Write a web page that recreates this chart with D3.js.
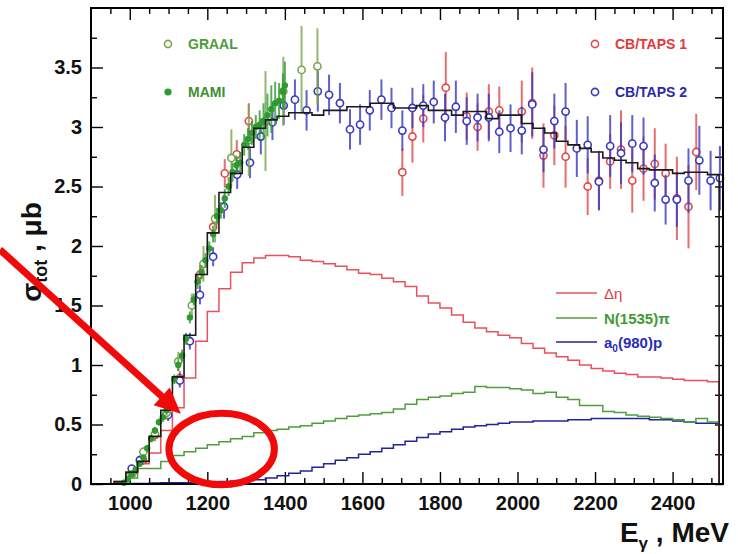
<!DOCTYPE html>
<html>
<head>
<meta charset="utf-8">
<script src="https://cdn.jsdelivr.net/npm/d3@7"></script>
<style>
  body { margin: 0; background: #fff; }
  svg { font-family: "Liberation Sans", Arial, Helvetica, sans-serif; }
</style>
</head>
<body>
<div id="chart"></div>
<script>
// histogram bins, 30 MeV wide, 960 .. 2520 MeV
const binEdges = d3.range(960, 2521, 30);

const totalModel = [0.02, 0.10, 0.19, 0.40, 0.62, 0.90, 1.25, 1.76, 2.11, 2.45, 2.61, 2.83, 2.99, 3.06,
  3.09, 3.12, 3.12, 3.10, 3.14, 3.14, 3.17, 3.17, 3.20, 3.20, 3.16, 3.16, 3.18, 3.14, 3.14, 3.10,
  3.13, 3.13, 3.07, 3.10, 3.10, 3.03, 2.99, 2.95, 2.88, 2.85, 2.82, 2.79, 2.74, 2.72, 2.70, 2.65,
  2.64, 2.64, 2.61, 2.62, 2.62, 2.60];
const deltaEta = [0.02, 0.09, 0.17, 0.26, 0.45, 0.64, 0.89, 1.20, 1.45, 1.64, 1.78, 1.86, 1.90, 1.92,
  1.92, 1.91, 1.88, 1.87, 1.85, 1.83, 1.80, 1.77, 1.76, 1.73, 1.70, 1.66, 1.58, 1.52, 1.48, 1.42,
  1.36, 1.31, 1.28, 1.25, 1.23, 1.18, 1.14, 1.10, 1.07, 1.04, 1.00, 0.97, 0.95, 0.93, 0.92, 0.90,
  0.90, 0.89, 0.88, 0.87, 0.87, 0.86];
const n1535Pi = [0.01, 0.05, 0.13, 0.13, 0.19, 0.24, 0.27, 0.30, 0.33, 0.355, 0.38, 0.40, 0.43, 0.45,
  0.46, 0.48, 0.49, 0.51, 0.53, 0.55, 0.57, 0.58, 0.59, 0.60, 0.63, 0.67, 0.71, 0.73, 0.74, 0.76,
  0.77, 0.82, 0.81, 0.81, 0.80, 0.79, 0.76, 0.77, 0.73, 0.71, 0.66, 0.66, 0.61, 0.60, 0.58, 0.57,
  0.56, 0.55, 0.54, 0.52, 0.55, 0.52];
const a0p = [0.003, 0.005, 0.005, 0.008, 0.01, 0.01, 0.01, 0.012, 0.015, 0.02, 0.025, 0.03, 0.035, 0.05,
  0.07, 0.09, 0.11, 0.14, 0.17, 0.20, 0.22, 0.25, 0.27, 0.30, 0.33, 0.36, 0.39, 0.42, 0.44, 0.46,
  0.48, 0.49, 0.50, 0.51, 0.52, 0.52, 0.53, 0.53, 0.53, 0.54, 0.54, 0.55, 0.55, 0.55, 0.55, 0.55,
  0.54, 0.54, 0.53, 0.52, 0.51, 0.51];

// CB/TAPS 1 (open red)
const taps1E = [1008, 1034, 1065, 1129, 1181, 1215, 1245, 1276, 1307, 1703, 1729, 1757, 1815, 1869,
  1897, 1926, 1953, 2011, 2038, 2067, 2095, 2124, 2181, 2210, 2239, 2267, 2296, 2325, 2354, 2382,
  2411, 2441, 2461];
const taps1Sigma = [0.10, 0.20, 0.41, 0.89, 1.76, 2.16, 2.61, 2.77, 3.05, 2.62, 2.92, 3.07, 3.33, 3.09,
  3.00, 3.13, 3.14, 3.13, 3.20, 2.76, 2.93, 2.75, 2.50, 2.55, 2.71, 2.81, 2.55, 2.65, 2.69, 2.61,
  2.40, 2.33, 2.79];
const taps1Err = [0.03, 0.04, 0.05, 0.06, 0.08, 0.09, 0.12, 0.12, 0.15, 0.20, 0.22, 0.20, 0.30, 0.20,
  0.20, 0.23, 0.20, 0.26, 0.30, 0.27, 0.25, 0.26, 0.24, 0.25, 0.23, 0.33, 0.27, 0.27, 0.30, 0.25,
  0.35, 0.35, 0.32];

// CB/TAPS 2 (open blue)
const taps2E = [1005, 1026, 1099, 1129, 1155, 1181, 1215, 1243, 1277, 1310, 1338, 1368, 1397, 1426,
  1456, 1485, 1514, 1542, 1568, 1594, 1619, 1649, 1675, 1703, 1729, 1757, 1784, 1813, 1841, 1869,
  1897, 1926, 1953, 1982, 2011, 2038, 2067, 2095, 2124, 2153, 2181, 2210, 2239, 2267, 2296, 2325,
  2354, 2382, 2411, 2441, 2469, 2498, 2522];
const taps2Sigma = [0.13, 0.20, 0.58, 0.87, 1.20, 1.59, 1.91, 2.33, 2.60, 2.70, 2.92, 3.04, 3.18, 3.23,
  3.14, 3.30, 3.27, 3.20, 2.98, 3.02, 3.14, 3.23, 3.16, 2.97, 3.16, 3.18, 3.21, 3.08, 3.17, 3.05,
  3.08, 3.08, 2.96, 2.99, 2.97, 3.19, 2.81, 3.05, 3.13, 2.82, 2.85, 2.54, 2.84, 2.78, 2.86, 2.84,
  2.53, 2.39, 2.39, 2.55, 2.72, 2.55, 2.57];
const taps2Err = [0.03, 0.04, 0.05, 0.06, 0.07, 0.08, 0.08, 0.10, 0.12, 0.13, 0.15, 0.15, 0.16, 0.17,
  0.17, 0.17, 0.17, 0.17, 0.17, 0.17, 0.17, 0.17, 0.17, 0.17, 0.17, 0.18, 0.18, 0.20, 0.22, 0.20,
  0.20, 0.20, 0.18, 0.20, 0.20, 0.27, 0.19, 0.23, 0.24, 0.24, 0.24, 0.24, 0.26, 0.26, 0.24, 0.24,
  0.24, 0.21, 0.23, 0.27, 0.29, 0.25, 0.27];

// GRAAL (open green)
const graalE = [1005, 1035, 1065, 1095, 1125, 1160, 1190, 1220, 1262, 1307, 1350, 1396, 1443, 1484];
const graalSigma = [0.08, 0.27, 0.42, 0.60, 1.03, 1.50, 1.85, 2.23, 2.74, 2.89, 3.05, 3.30, 3.48, 3.51];
const graalErr = [0.03, 0.04, 0.05, 0.06, 0.08, 0.10, 0.15, 0.20, 0.24, 0.30, 0.42, 0.29, 0.37, 0.32];

// MAMI (filled green)
const mamiE = [985, 995, 1005, 1015, 1025, 1035, 1045, 1055, 1065, 1075, 1085, 1095, 1105, 1115, 1125,
  1135, 1145, 1155, 1165, 1175, 1185, 1195, 1205, 1215, 1225, 1235, 1245, 1255, 1265, 1275, 1285,
  1295, 1305, 1315, 1325, 1335, 1345, 1355, 1365, 1375, 1385, 1395, 1400];
const mamiSigma = [0.01, 0.04, 0.08, 0.12, 0.17, 0.22, 0.30, 0.38, 0.45, 0.52, 0.56, 0.62, 0.72, 0.88, 1.00,
  1.08, 1.22, 1.40, 1.55, 1.70, 1.78, 1.88, 1.98, 2.10, 2.25, 2.30, 2.40, 2.50, 2.62, 2.68, 2.70,
  2.85, 2.90, 2.95, 3.00, 3.02, 3.05, 3.10, 3.15, 3.20, 3.22, 3.30, 3.35];
const mamiErr = [0.01, 0.02, 0.02, 0.02, 0.02, 0.03, 0.03, 0.03, 0.03, 0.03, 0.04, 0.04, 0.04, 0.04, 0.05,
  0.05, 0.05, 0.05, 0.05, 0.06, 0.06, 0.06, 0.06, 0.07, 0.07, 0.07, 0.08, 0.08, 0.08, 0.08, 0.09,
  0.09, 0.09, 0.10, 0.10, 0.12, 0.15, 0.18, 0.20, 0.18, 0.15, 0.15, 0.20];

const xMajor = [1000, 1200, 1400, 1600, 1800, 2000, 2200, 2400];
const yMajor = [0, 0.5, 1, 1.5, 2, 2.5, 3, 3.5];

const width = 738, height = 554;
const margin = { top: 8, right: 15, bottom: 70, left: 91 };

const svg = d3.select("#chart")
  .append("svg")
  .attr("width", width)
  .attr("height", height);

const x = d3.scaleLinear().domain([900, 2530]).range([margin.left, width - margin.right]);
const y = d3.scaleLinear().domain([0, 4.0]).range([height - margin.bottom, margin.top]);

const plotB = height - margin.bottom, plotR = width - margin.right;

// axes (ticks point inward)
const xMinor = d3.range(950, 2530, 50).filter(v => xMajor.indexOf(v) === -1);
const yMinor = d3.range(0.25, 4.0, 0.5);

function styleAxis(g) {
  g.select(".domain").remove();
  g.selectAll("line").attr("stroke", "#000").attr("stroke-width", 1.4);
  g.selectAll("text").attr("font-size", 20).attr("font-weight", "bold").attr("fill", "#111");
}

svg.append("g").attr("transform", `translate(0,${plotB})`)
  .call(d3.axisBottom(x).tickValues(xMajor).tickSize(-12).tickPadding(12).tickFormat(d3.format("d")))
  .call(styleAxis);
svg.append("g").attr("transform", `translate(0,${plotB})`)
  .call(d3.axisBottom(x).tickValues(xMinor).tickSize(-6).tickFormat(""))
  .call(styleAxis);
svg.append("g").attr("transform", `translate(0,${margin.top})`)
  .call(d3.axisTop(x).tickValues(xMajor).tickSize(-12).tickFormat(""))
  .call(styleAxis);
svg.append("g").attr("transform", `translate(0,${margin.top})`)
  .call(d3.axisTop(x).tickValues(xMinor).tickSize(-6).tickFormat(""))
  .call(styleAxis);

svg.append("g").attr("transform", `translate(${margin.left},0)`)
  .call(d3.axisLeft(y).tickValues(yMajor).tickSize(-12).tickPadding(9).tickFormat(d => d))
  .call(styleAxis);
svg.append("g").attr("transform", `translate(${margin.left},0)`)
  .call(d3.axisLeft(y).tickValues(yMinor).tickSize(-6).tickFormat(""))
  .call(styleAxis);
svg.append("g").attr("transform", `translate(${plotR},0)`)
  .call(d3.axisRight(y).tickValues(yMajor).tickSize(-8).tickFormat(""))
  .call(styleAxis);
svg.append("g").attr("transform", `translate(${plotR},0)`)
  .call(d3.axisRight(y).tickValues(yMinor).tickSize(-8).tickFormat(""))
  .call(styleAxis);

// histograms
function stepPoints(values) {
  const pts = [[binEdges[0], 0]];
  values.forEach((v, i) => {
    pts.push([binEdges[i], v]);
    pts.push([binEdges[i + 1], v]);
  });
  pts.push([binEdges[values.length], 0]);
  return pts;
}
const stepLine = d3.line().x(d => x(d[0])).y(d => y(d[1]));

const components = [
  { values: a0p, color: "#23239a" },
  { values: n1535Pi, color: "#4e9e3e" },
  { values: deltaEta, color: "#e8505c" }
];
components.forEach(c => {
  svg.append("path")
    .attr("d", stepLine(stepPoints(c.values)))
    .attr("fill", "none")
    .attr("stroke", c.color)
    .attr("stroke-width", 1.5);
});

// data points with error bars
function drawSet(E, S, Err, color, filled, r) {
  const g = svg.append("g");
  g.selectAll("line")
    .data(E)
    .enter()
    .append("line")
    .attr("x1", d => x(d))
    .attr("x2", d => x(d))
    .attr("y1", (d, i) => y(S[i] - Err[i]))
    .attr("y2", (d, i) => y(S[i] + Err[i]))
    .attr("stroke", color)
    .attr("stroke-width", 2)
    .attr("stroke-opacity", 0.8);
  g.selectAll("circle")
    .data(E)
    .enter()
    .append("circle")
    .attr("cx", d => x(d))
    .attr("cy", (d, i) => y(S[i]))
    .attr("r", r)
    .attr("fill", filled ? color : "#fff")
    .attr("stroke", color)
    .attr("stroke-width", 1.6);
}

drawSet(taps1E, taps1Sigma, taps1Err, "#e04a4a", false, 3.6);
drawSet(taps2E, taps2Sigma, taps2Err, "#3838c0", false, 3.6);
drawSet(graalE, graalSigma, graalErr, "#78a64c", false, 3.6);
drawSet(mamiE, mamiSigma, mamiErr, "#2f9a2f", true, 2.4);

svg.append("path")
  .attr("d", stepLine(stepPoints(totalModel)))
  .attr("fill", "none")
  .attr("stroke", "#1a1a1a")
  .attr("stroke-width", 1.6);

// frame
svg.append("rect")
  .attr("x", margin.left)
  .attr("y", margin.top)
  .attr("width", plotR - margin.left)
  .attr("height", plotB - margin.top)
  .attr("fill", "none")
  .attr("stroke", "#000")
  .attr("stroke-width", 2);

// legends
const dataLegend = [
  { label: "GRAAL", color: "#4f9a3a", marker: "#78a64c", filled: false, lx: 168, ly: 44 },
  { label: "MAMI", color: "#3c8f32", marker: "#2f9a2f", filled: true, lx: 168, ly: 92 },
  { label: "CB/TAPS 1", color: "#e03a3a", marker: "#e04a4a", filled: false, lx: 595, ly: 44 },
  { label: "CB/TAPS 2", color: "#2a2aa8", marker: "#3838c0", filled: false, lx: 595, ly: 92 }
];
dataLegend.forEach(l => {
  svg.append("circle")
    .attr("cx", l.lx).attr("cy", l.ly)
    .attr("r", l.filled ? 2.8 : 3.6)
    .attr("fill", l.filled ? l.marker : "#fff")
    .attr("stroke", l.marker)
    .attr("stroke-width", 1.6);
  svg.append("text")
    .attr("x", l.lx + 20).attr("y", l.ly + 5)
    .attr("font-size", 14).attr("font-weight", "bold")
    .attr("fill", l.color)
    .text(l.label);
});

const lineLegend = [
  { color: "#e8505c", ly: 293 },
  { color: "#4e9e3e", ly: 318 },
  { color: "#23239a", ly: 342 }
];
lineLegend.forEach(l => {
  svg.append("line")
    .attr("x1", 556).attr("x2", 597)
    .attr("y1", l.ly).attr("y2", l.ly)
    .attr("stroke", l.color).attr("stroke-width", 1.5);
});
svg.append("text").attr("x", 604).attr("y", 299)
  .attr("font-size", 15).attr("fill", "#e03a3a").text("Δη");
svg.append("text").attr("x", 604).attr("y", 324)
  .attr("font-size", 15).attr("font-weight", "bold").attr("fill", "#3f9a35").text("N(1535)π");
const a0Text = svg.append("text").attr("x", 604).attr("y", 348)
  .attr("font-size", 15).attr("font-weight", "bold").attr("fill", "#2a2ab8");
a0Text.append("tspan").text("a");
a0Text.append("tspan").attr("font-size", 10).attr("dy", 4).text("0");
a0Text.append("tspan").attr("dy", -4).text("(980)p");

// axis titles
const yTitle = svg.append("text")
  .attr("transform", "translate(41,252) rotate(-90)")
  .attr("text-anchor", "middle")
  .attr("font-size", 28).attr("font-weight", "bold").attr("fill", "#111");
yTitle.append("tspan").text("σ");
yTitle.append("tspan").attr("font-size", 18).attr("dy", 6).text("tot");
yTitle.append("tspan").attr("dy", -6).text(" , μb");

const xTitle = svg.append("text")
  .attr("x", 729).attr("y", 542)
  .attr("text-anchor", "end")
  .attr("font-size", 28).attr("font-weight", "bold").attr("fill", "#111");
xTitle.append("tspan").text("E");
xTitle.append("tspan").attr("font-size", 17).attr("dy", 7).text("γ");
xTitle.append("tspan").attr("dy", -7).text(" , MeV");

// red annotation: arrow and ellipse
const arrowFrom = [665, 1.97], arrowTo = [1132, 0.59];
const ax0 = x(arrowFrom[0]), ay0 = y(arrowFrom[1]), ax1 = x(arrowTo[0]), ay1 = y(arrowTo[1]);
const ang = Math.atan2(ay1 - ay0, ax1 - ax0);
const headLen = 26, headHalf = 12;
const bx = ax1 - headLen * Math.cos(ang), by = ay1 - headLen * Math.sin(ang);
svg.append("line")
  .attr("x1", ax0).attr("y1", ay0)
  .attr("x2", bx + 2 * Math.cos(ang)).attr("y2", by + 2 * Math.sin(ang))
  .attr("stroke", "#f00a0a").attr("stroke-width", 7);
svg.append("path")
  .attr("d", `M${ax1},${ay1} L${bx - headHalf * Math.sin(ang)},${by + headHalf * Math.cos(ang)} L${bx + headHalf * Math.sin(ang)},${by - headHalf * Math.cos(ang)} Z`)
  .attr("fill", "#f00a0a");

svg.append("ellipse")
  .attr("cx", x(1237)).attr("cy", y(0.294))
  .attr("rx", x(1237 + 136) - x(1237))
  .attr("ry", y(0) - y(0.30))
  .attr("fill", "none")
  .attr("stroke", "#f00a0a")
  .attr("stroke-width", 7);
</script>
</body>
</html>
